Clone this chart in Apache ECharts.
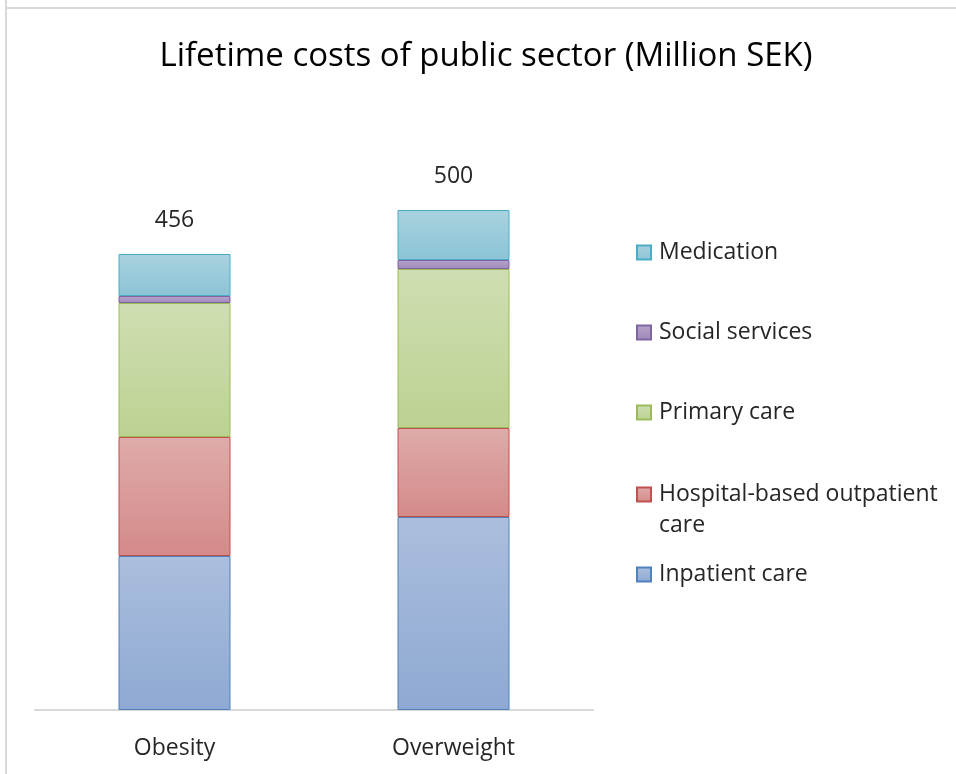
<!DOCTYPE html>
<html>
<head>
<meta charset="utf-8">
<title>Lifetime costs of public sector</title>
<script src="https://cdn.jsdelivr.net/npm/echarts@6/dist/echarts.min.js"></script>
<style>
  html, body { margin: 0; padding: 0; background: #fff; }
  #chart { width: 956px; height: 774px; }
</style>
</head>
<body>
<div id="chart"></div>
<script>
// data (Million SEK)
const groups = ["Obesity", "Overweight"];
const inpatient = [154, 193];
const outpatient = [119, 89];
const primaryCare = [134, 159];
const socialServices = [7, 9];
const medication = [42, 50];
const totalLabels = ["456", "500"];

const font = "Open Sans";

function grad(top, bottom) {
  return new echarts.graphic.LinearGradient(0, 0, 0, 1, [
    { offset: 0, color: top },
    { offset: 1, color: bottom }
  ]);
}

const seriesDefs = [
  { name: "Inpatient care", data: inpatient, fill: grad("#abbedd", "#8ea9d3"), line: "#4f81bd" },
  { name: "Hospital-based outpatient care", data: outpatient, fill: grad("#dfabab", "#d48a89"), line: "#c0504d" },
  { name: "Primary care", data: primaryCare, fill: grad("#cfdeb2", "#bbd291"), line: "#9bbb59" },
  { name: "Social services", data: socialServices, fill: grad("#b6a5ca", "#9e88b9"), line: "#8064a2" },
  { name: "Medication", data: medication, fill: grad("#aad2df", "#8bc4d6"), line: "#4bacc6" }
];

const series = seriesDefs.map(function (s, i) {
  const item = {
    name: s.name,
    type: "bar",
    stack: "total",
    barWidth: 112,
    data: s.data,
    itemStyle: { color: s.fill, borderColor: s.line, borderWidth: 1 },
    emphasis: { disabled: true }
  };
  if (i === seriesDefs.length - 1) {
    item.label = {
      show: true,
      position: "top",
      distance: 22,
      fontFamily: font,
      fontSize: 23,
      color: "#262626",
      formatter: function (p) { return totalLabels[p.dataIndex]; }
    };
  }
  return item;
});

// one legend block per entry so the uneven spacing of the original is kept
const legendTops = {
  "Medication": 237,
  "Social services": 317,
  "Primary care": 397,
  "Hospital-based outpatient care": 448,
  "Inpatient care": 559
};
const legends = Object.keys(legendTops).map(function (name) {
  const wrapped = name === "Hospital-based outpatient care";
  return {
    orient: "vertical",
    left: 636,
    top: legendTops[name],
    padding: 0,
    itemWidth: 14,
    itemHeight: 14,
    icon: "rect",
    data: [name],
    selectedMode: false,
    // empty first line keeps the icon level with the first text line
    formatter: wrapped ? "\nHospital-based outpatient\ncare" : "{name}",
    textStyle: {
      fontFamily: font,
      fontSize: 23,
      color: "#262626",
      lineHeight: 31,
      padding: [0, 0, 0, 3]
    }
  };
});

const chart = echarts.init(document.getElementById("chart"), null, { renderer: "canvas" });
chart.setOption({
  animation: false,
  backgroundColor: "#fff",
  title: {
    text: "Lifetime costs of public sector (Million SEK)",
    left: 481,
    textAlign: "center",
    top: 35,
    textStyle: { fontFamily: font, fontSize: 33, fontWeight: "normal", color: "#000" }
  },
  legend: legends,
  grid: { left: 35, right: 363, top: 210, bottom: 64 },
  xAxis: {
    type: "category",
    data: groups,
    axisTick: { show: false },
    axisLine: { lineStyle: { color: "#d9d9d9", width: 2 } },
    axisLabel: { margin: 27, fontFamily: font, fontSize: 23, color: "#262626" }
  },
  yAxis: {
    type: "value",
    min: 0,
    max: 500,
    show: false,
    splitLine: { show: false }
  },
  graphic: [
    { type: "line", shape: { x1: 6, y1: 0, x2: 6, y2: 774 }, style: { stroke: "#d9d9d9", lineWidth: 2 } },
    { type: "line", shape: { x1: 6, y1: 8, x2: 956, y2: 8 }, style: { stroke: "#d9d9d9", lineWidth: 2 } }
  ],
  series: series
});
</script>
</body>
</html>
